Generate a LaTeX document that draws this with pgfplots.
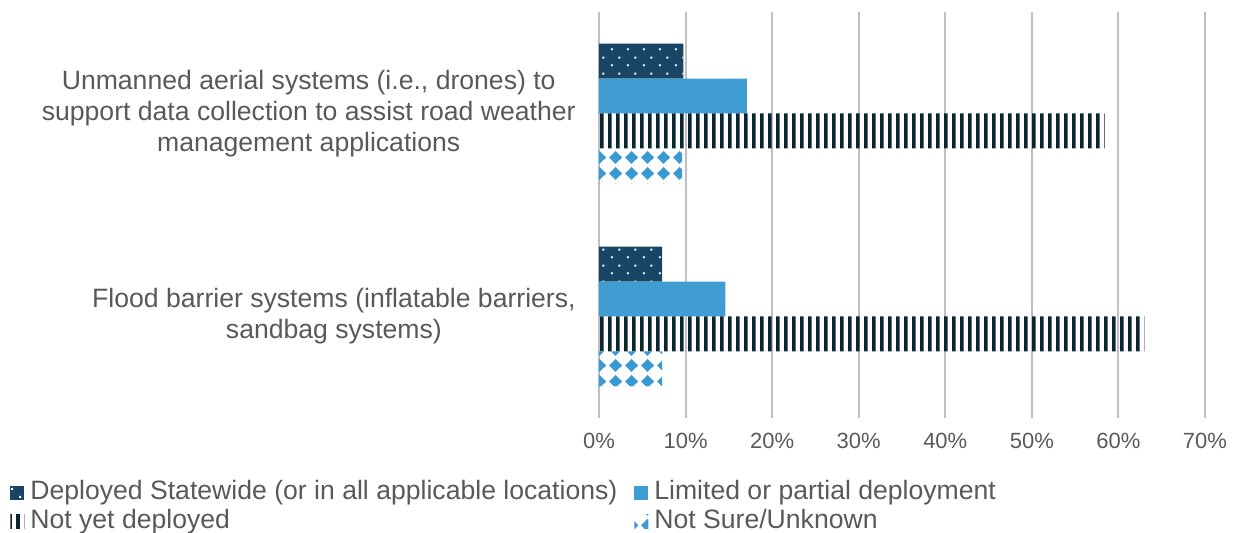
\documentclass[border=0pt]{standalone}
\usepackage{pgfplots}
\pgfplotsset{compat=1.18}
\usepackage{fontspec}
\setmainfont{Liberation Sans}
\usetikzlibrary{patterns}
\definecolor{navy}{HTML}{174563}
\definecolor{lblue}{HTML}{3F9DD3}
\definecolor{stripe}{HTML}{0B2533}
\definecolor{dblue}{HTML}{3A9AD4}
\definecolor{txt}{HTML}{595959}
\definecolor{grid}{HTML}{D9D9D9}
\pgfdeclarepatternformonly{whitedots}{\pgfqpoint{0pt}{0pt}}{\pgfqpoint{8pt}{8pt}}{\pgfqpoint{8pt}{8pt}}{%
  \pgfpathrectangle{\pgfqpoint{1.5pt}{1.5pt}}{\pgfqpoint{1pt}{1pt}}%
  \pgfpathrectangle{\pgfqpoint{5.5pt}{5.5pt}}{\pgfqpoint{1pt}{1pt}}%
  \pgfusepath{fill}}
\pgfdeclarepatternformonly{vstripes}{\pgfqpoint{0pt}{0pt}}{\pgfqpoint{4pt}{300pt}}{\pgfqpoint{4pt}{300pt}}{%
  \pgfpathrectangle{\pgfqpoint{0pt}{-1pt}}{\pgfqpoint{2pt}{302pt}}%
  \pgfusepath{fill}}
\pgfdeclarepatternformonly{diamonds}{\pgfqpoint{0pt}{0pt}}{\pgfqpoint{8pt}{8pt}}{\pgfqpoint{8pt}{8pt}}{%
  \pgfpathmoveto{\pgfqpoint{4pt}{0.6pt}}%
  \pgfpathlineto{\pgfqpoint{7.4pt}{4pt}}%
  \pgfpathlineto{\pgfqpoint{4pt}{7.4pt}}%
  \pgfpathlineto{\pgfqpoint{0.6pt}{4pt}}%
  \pgfpathclose
  \pgfusepath{fill}}
\begin{document}
\begin{tikzpicture}
\pgfplotsset{sqlegend/.style={legend image code/.code={\fill[##1] (0pt,-3.5pt) rectangle (7pt,3.5pt);}}}
\begin{axis}[
  scale only axis, width=303pt, height=203pt,
  xbar, bar width=0.172,
  xmin=0, xmax=70, ymin=-0.5, ymax=1.5,
  xtick={0,10,...,70},
  xticklabel={\pgfmathprintnumber{\tick}\%},
  ytick={0,1},
  yticklabels={{Flood barrier systems (inflatable barriers,\\sandbag systems)},{Unmanned aerial systems (i.e., drones) to\\support data collection to assist road weather\\management applications}},
  yticklabel style={align=center, inner sep=0pt, xshift=-11.5pt, font=\fontsize{13.3}{15.5}\selectfont, text=txt},
  xticklabel style={inner sep=0pt, yshift=-7.5pt, font=\fontsize{11}{13}\selectfont, text=txt},
  /pgf/number format/assume math mode=true,
  major tick length=0pt, tick style={draw=none},
  axis line style={draw=none},
  xmajorgrids, ymajorgrids=false, major grid style={grid, line width=1pt},
  legend columns=2,
  legend cell align=left,
  legend style={at={(0,0)}, anchor=north west, xshift=-294.5pt, yshift=-31pt,
    draw=none, fill=none, inner sep=0pt, font=\fontsize{13.3}{15.5}\selectfont, text=txt,
    nodes={inner sep=0pt, text height=9.5pt, text depth=2.8pt}, row sep=2.2pt,
    /tikz/every odd column/.append style={column sep=3pt},
    /tikz/every even column/.append style={column sep=8.5pt}},
]
\addplot[sqlegend, draw=none, fill=navy, bar shift=0.258, postaction={pattern=whitedots, pattern color=white}] coordinates {(7.3,0) (9.76,1)};
\addlegendentry{Deployed Statewide (or in all applicable locations)}
\addplot[sqlegend, draw=none, fill=lblue, bar shift=0.086] coordinates {(14.6,0) (17.07,1)};
\addlegendentry{Limited or partial deployment}
\addplot[sqlegend, draw=none, pattern=vstripes, pattern color=stripe, bar shift=-0.086] coordinates {(63.0,0) (58.4,1)};
\addlegendentry{Not yet deployed}
\addplot[sqlegend, draw=none, pattern=diamonds, pattern color=dblue, bar shift=-0.258] coordinates {(7.3,0) (9.6,1)};
\addlegendentry{Not Sure/Unknown}
\coordinate (SW) at (rel axis cs:0,0);
\end{axis}
\pgfresetboundingbox
\path[use as bounding box] ([shift={(-299.5pt,-57.5pt)}]SW) rectangle ([shift={(319pt,209pt)}]SW);
\end{tikzpicture}
\end{document}
